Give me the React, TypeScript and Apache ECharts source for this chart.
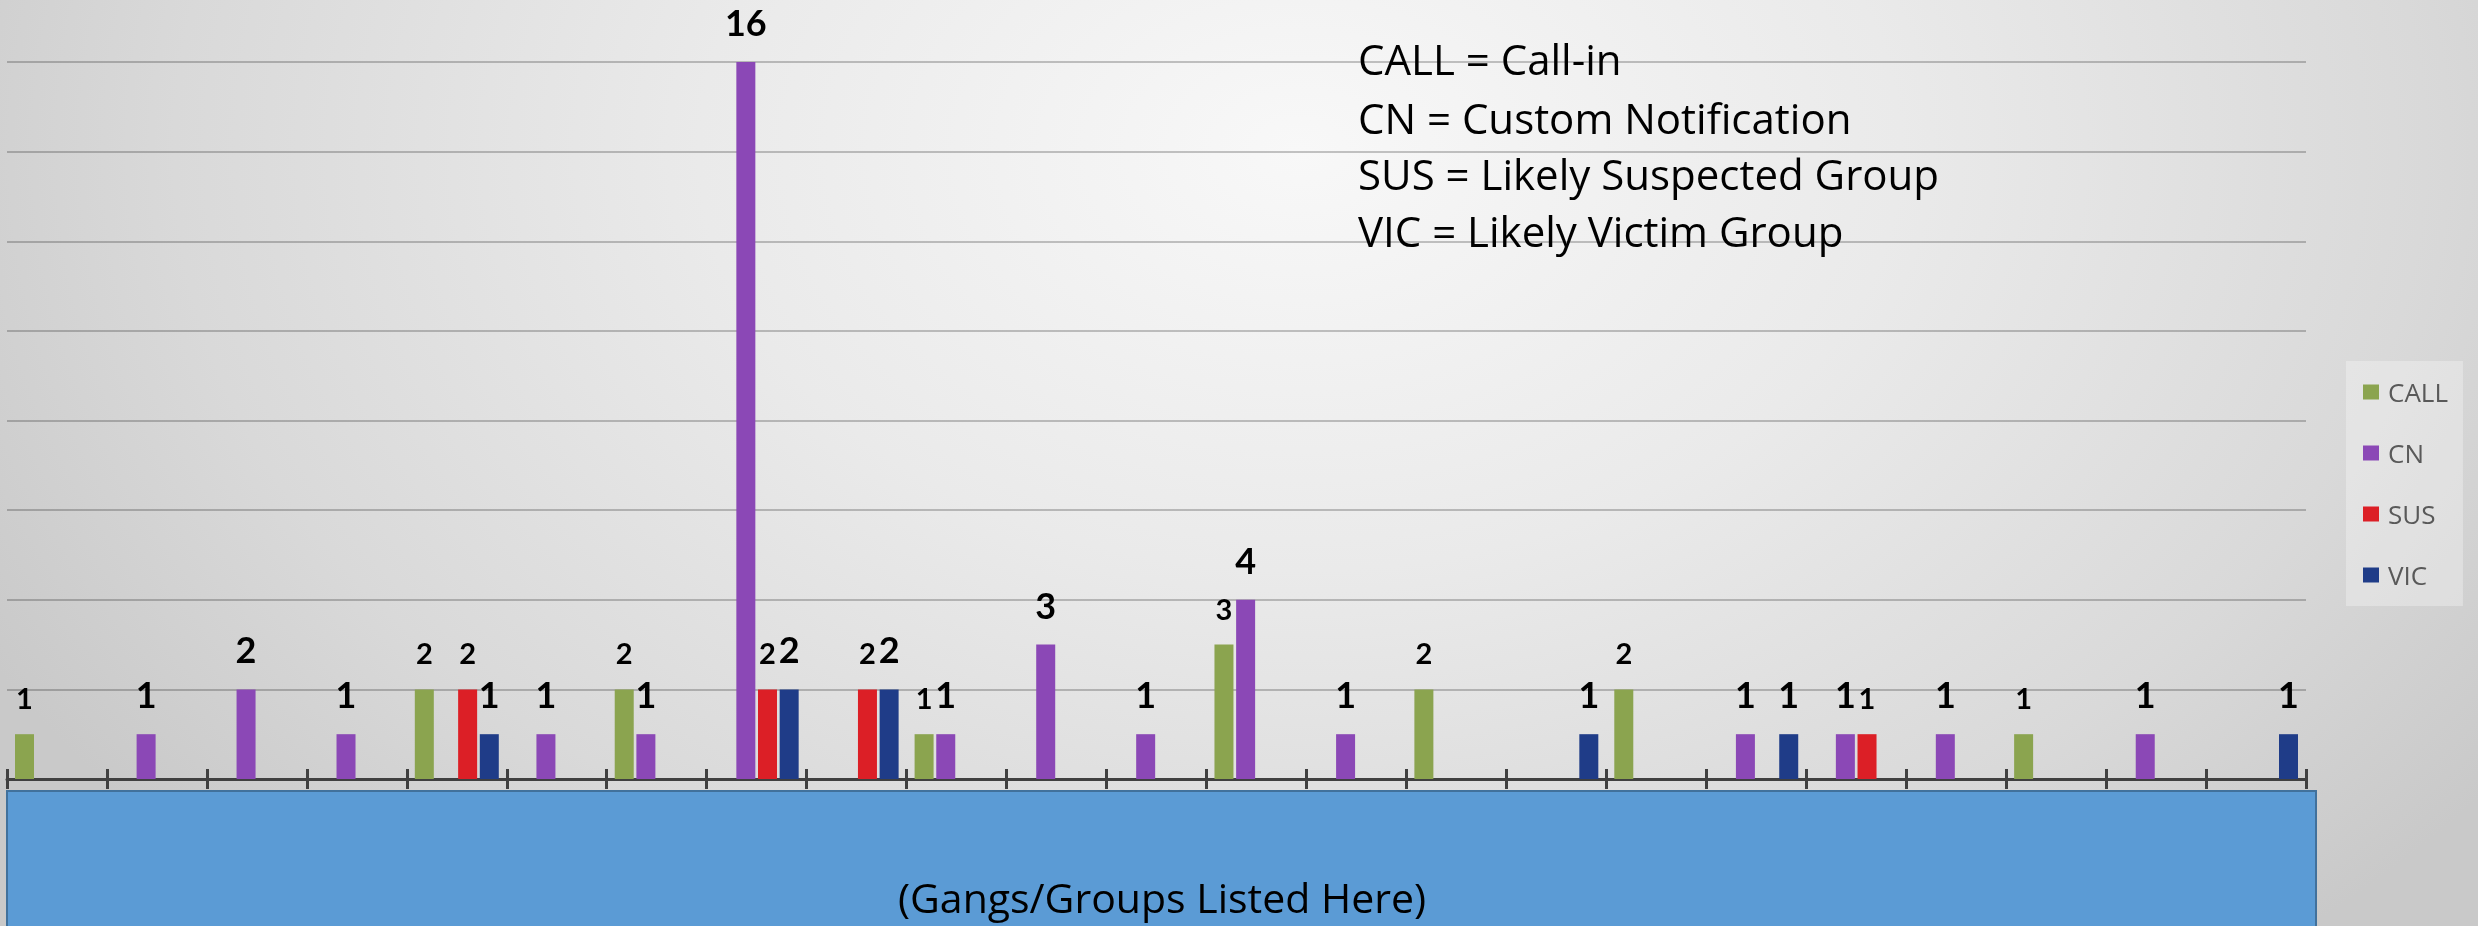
import React, { useEffect, useRef } from "react";
import * as echarts from "echarts";

// 23 gangs / groups (names are hidden behind the blue placeholder box)
const groups = [
  "G1", "G2", "G3", "G4", "G5", "G6", "G7", "G8", "G9", "G10", "G11", "G12",
  "G13", "G14", "G15", "G16", "G17", "G18", "G19", "G20", "G21", "G22", "G23",
];

const seriesNames = ["CALL", "CN", "SUS", "VIC"];

const callValues = [1, null, null, null, 2, null, 2, null, null, 1, null, null, 3, null, 2, null, 2, null, null, null, 1, null, null];
const cnValues = [null, 1, 2, 1, null, 1, 1, 16, null, 1, 3, 1, 4, 1, null, null, null, 1, 1, 1, null, 1, null];
const susValues = [null, null, null, null, 2, null, null, 2, 2, null, null, null, null, null, null, null, null, null, 1, null, null, null, null];
const vicValues = [null, null, null, null, 1, null, null, 2, 2, null, null, null, null, null, null, 1, null, 1, null, null, null, null, 1];

const yMin = 0;
const yMax = 16;
const yInterval = 2;

const notes = [
  "CALL = Call-in",
  "CN = Custom Notification",
  "SUS = Likely Suspected Group",
  "VIC = Likely Victim Group",
];
const placeholder = "(Gangs/Groups Listed Here)";

const colors = ["#8BA44F", "#8B48B6", "#DC1F26", "#1F3C88"];
const labelSizes = [29, 36, 29, 36];

export default function App() {
  const ref = useRef<HTMLDivElement>(null);

  useEffect(() => {
    if (!ref.current) return;
    const chart = echarts.init(ref.current, undefined, { renderer: "svg" });
    const values = [callValues, cnValues, susValues, vicValues];

    const noteY = [58.5, 117.5, 173.5, 230.5];

    chart.setOption({
      animation: false,
      backgroundColor: "transparent",
      grid: { left: 7, right: 172, top: 62, bottom: 147, containLabel: false },
      legend: {
        data: seriesNames,
        orient: "vertical",
        left: 2346,
        top: 361,
        padding: [18, 15, 18, 17],
        itemGap: 35,
        itemWidth: 16,
        itemHeight: 15,
        icon: "rect",
        backgroundColor: "rgba(255,255,255,0.3)",
        textStyle: {
          fontFamily: "Open Sans",
          fontSize: 26,
          lineHeight: 26,
          color: "#595959",
          padding: [0, 0, 0, 4],
        },
      },
      xAxis: [
        {
          type: "category",
          data: groups,
          position: "bottom",
          boundaryGap: true,
          axisLine: { show: true, lineStyle: { color: "#404040", width: 3 } },
          axisTick: { show: true, inside: false, length: 10, lineStyle: { color: "#404040", width: 3 } },
          axisLabel: { show: false },
          splitLine: { show: false },
        },
        {
          type: "category",
          data: groups,
          position: "bottom",
          boundaryGap: true,
          axisLine: { show: false },
          axisTick: { show: true, inside: true, length: 10, lineStyle: { color: "#404040", width: 3 } },
          axisLabel: { show: false },
          splitLine: { show: false },
        },
      ],
      yAxis: {
        type: "value",
        min: yMin,
        max: yMax,
        interval: yInterval,
        axisLine: { show: false },
        axisTick: { show: false },
        axisLabel: { show: false },
        splitLine: { show: true, lineStyle: { color: "rgba(0,0,0,0.22)", width: 2 } },
      },
      series: seriesNames.map((name, i) => ({
        name,
        type: "bar",
        xAxisIndex: 0,
        data: values[i],
        barWidth: 19,
        barGap: "14%",
        itemStyle: { color: colors[i] },
        label: {
          show: true,
          position: "top",
          distance: 22,
          fontFamily: "Lato",
          fontWeight: "bold",
          fontSize: labelSizes[i],
          color: "#000",
        },
      })),
      graphic: [
        {
          type: "rect",
          shape: { x: 7, y: 791, width: 2309, height: 145 },
          style: { fill: "#5B9BD5", stroke: "#41719C", lineWidth: 2 },
          z: 10,
        },
        {
          type: "text",
          x: 1162,
          y: 897,
          style: {
            text: placeholder,
            fontFamily: "Open Sans",
            fontSize: 41,
            fill: "#000",
            align: "center",
            verticalAlign: "middle",
          },
          z: 11,
        },
        ...notes.map((t, i) => ({
          type: "text",
          x: 1358,
          y: noteY[i],
          style: {
            text: t,
            fontFamily: "Open Sans",
            fontSize: 42,
            fill: "#000",
            align: "left",
            verticalAlign: "middle",
          },
          z: 11,
        })),
      ],
    });

    return () => chart.dispose();
  }, []);

  return (
    <div
      style={{
        position: "fixed",
        left: 0,
        top: 0,
        width: 2478,
        height: 926,
        background:
          "radial-gradient(ellipse 1500px 1050px at 1300px 150px, #f8f8f8 0%, #eaeaea 40%, #d9d9d9 75%, #c9c9c9 100%)",
      }}
    >
      <div ref={ref} style={{ width: 2478, height: 926 }} />
    </div>
  );
}
